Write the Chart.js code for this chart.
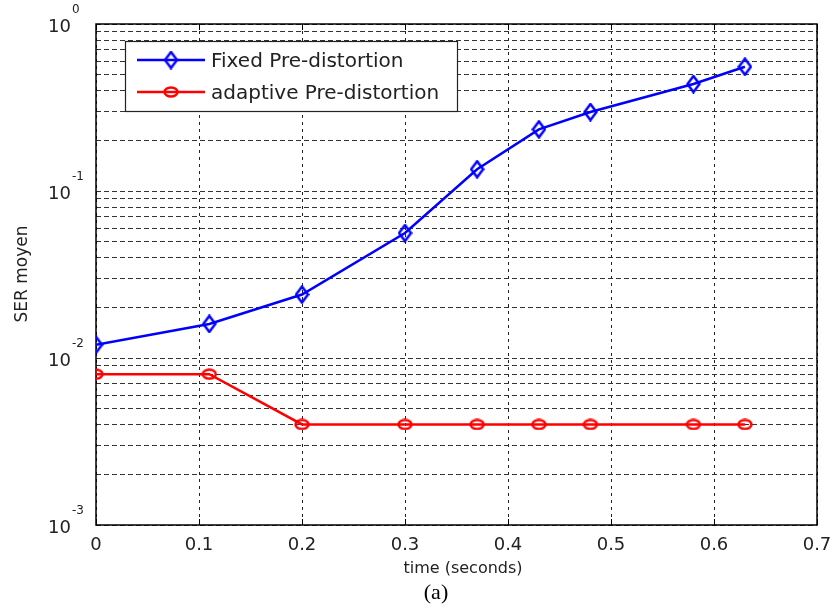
<!DOCTYPE html>
<html>
<head>
<meta charset="utf-8">
<script src="https://cdn.jsdelivr.net/npm/chart.js@4/dist/chart.umd.min.js"></script>
<style>
  html, body { margin: 0; padding: 0; background: #fff; }
  #wrap { width: 834px; height: 609px; }
</style>
</head>
<body>
<div id="wrap"><canvas id="serChart" width="834" height="609"></canvas></div>
<script>
// data
var timeSec = [0, 0.11, 0.2, 0.3, 0.37, 0.43, 0.48, 0.58, 0.63];
var serFixed = [0.012, 0.016, 0.024, 0.056, 0.135, 0.234, 0.297, 0.437, 0.555];
var serAdaptive = [0.008, 0.008, 0.004, 0.004, 0.004, 0.004, 0.004, 0.004, 0.004];
var xTicks = [0, 0.1, 0.2, 0.3, 0.4, 0.5, 0.6, 0.7];
var yDecades = [-3, -2, -1, 0];
var seriesNames = ["Fixed Pre-distortion", "adaptive Pre-distortion"];

function toPoints(xs, ys) {
  return xs.map(function (x, i) { return { x: x, y: ys[i] }; });
}

// 1..9 x 10^d gridlines like matlab
var yTickVals = [];
yDecades.forEach(function (d, i) {
  if (i == yDecades.length - 1) { yTickVals.push(Math.pow(10, d)); return; }
  for (var m = 1; m <= 9; m++) yTickVals.push(m * Math.pow(10, d));
});

var FONT = "'DejaVu Sans', Verdana, sans-serif";

// hollow markers (the figure is a bit stretched, so not square)
function makeMarker(kind, color, w, h) {
  var c = document.createElement('canvas');
  c.width = w; c.height = h;
  var g = c.getContext('2d');
  g.strokeStyle = color;
  g.lineWidth = 2.5;
  g.beginPath();
  if (kind == 'diamond') {
    g.moveTo(w / 2, 1.5); g.lineTo(w - 1.5, h / 2);
    g.lineTo(w / 2, h - 1.5); g.lineTo(1.5, h / 2);
    g.closePath();
  } else {
    g.ellipse(w / 2, h / 2, w / 2 - 1.5, h / 2 - 1.5, 0, 0, Math.PI * 2);
  }
  g.stroke();
  return c;
}
var blueDiamond = makeMarker('diamond', '#0000ff', 15, 19);
var redOval = makeMarker('oval', '#ff0000', 16, 12);

var axesExtras = {
  id: 'axesExtras',
  beforeDatasetsDraw: function (chart) {
    var ctx = chart.ctx, a = chart.chartArea;
    var xs = chart.scales.x;
    ctx.save();
    // inward ticks top and bottom
    ctx.strokeStyle = '#000';
    ctx.lineWidth = 1;
    xTicks.forEach(function (t) {
      var px = Math.round(xs.getPixelForValue(t)) + 0.5;
      ctx.beginPath();
      ctx.moveTo(px, a.top); ctx.lineTo(px, a.top + 6);
      ctx.moveTo(px, a.bottom); ctx.lineTo(px, a.bottom - 6);
      ctx.stroke();
    });
    ctx.lineWidth = 1.5;
    ctx.strokeRect(a.left, a.top, a.right - a.left, a.bottom - a.top);
    ctx.restore();
  },
  afterDraw: function (chart) {
    var ctx = chart.ctx;
    var xs = chart.scales.x, ys = chart.scales.y;
    ctx.save();
    ctx.fillStyle = '#222';
    ctx.textBaseline = 'middle';
    // decade labels with superscript
    yDecades.forEach(function (d) {
      var py = ys.getPixelForValue(Math.pow(10, d));
      ctx.font = '18px ' + FONT;
      ctx.textAlign = 'left';
      ctx.fillText('10', 48, py + 3);
      var w = ctx.measureText('10').width;
      ctx.font = '12px ' + FONT;
      ctx.fillText(String(d), 48 + w + 1, py - 14);
    });
    // x tick labels
    ctx.font = '18px ' + FONT;
    ctx.textAlign = 'center';
    xTicks.forEach(function (t) {
      ctx.fillText(String(t), xs.getPixelForValue(t), 545);
    });
    // axis titles
    ctx.font = '16px ' + FONT;
    ctx.fillText('time (seconds)', 463, 569);
    ctx.save();
    ctx.translate(23, 274);
    ctx.rotate(-Math.PI / 2);
    ctx.font = '17px ' + FONT;
    ctx.fillText('SER moyen', 0, 0);
    ctx.restore();
    ctx.fillStyle = '#000';
    ctx.font = '22px "Liberation Serif", "Times New Roman", serif';
    ctx.fillText('(a)', 436, 593);

    // legend box
    var lx = 125, ly = 41, lw = 332, lh = 70;
    ctx.fillStyle = '#fff';
    ctx.fillRect(lx, ly, lw, lh);
    ctx.strokeStyle = '#222';
    ctx.lineWidth = 1.2;
    ctx.strokeRect(lx + 0.5, ly + 0.5, lw, lh);
    chart.data.datasets.forEach(function (ds, i) {
      var cy = ly + 19 + i * 32;
      ctx.strokeStyle = ds.borderColor;
      ctx.lineWidth = ds.borderWidth;
      ctx.beginPath();
      ctx.moveTo(137, cy); ctx.lineTo(205, cy);
      ctx.stroke();
      Chart.helpers.drawPoint(ctx, {
        pointStyle: ds.pointStyle, radius: ds.pointRadius, rotation: 0, borderWidth: 0
      }, 171, cy);
      ctx.fillStyle = '#222';
      ctx.font = '20px ' + FONT;
      ctx.textAlign = 'left';
      ctx.fillText(ds.label, 211, cy + 2);
    });
    ctx.restore();
  }
};

var ctxS = document.getElementById('serChart').getContext('2d');
var serChart = new Chart(ctxS, {
  type: 'line',
  data: {
    datasets: [{
      label: seriesNames[0],
      data: toPoints(timeSec, serFixed),
      borderColor: '#0000ff',
      backgroundColor: 'rgba(0,0,0,0)',
      borderWidth: 2.5,
      pointStyle: blueDiamond,
      pointRadius: 7,
      tension: 0
    }, {
      label: seriesNames[1],
      data: toPoints(timeSec, serAdaptive),
      borderColor: '#ff0000',
      backgroundColor: 'rgba(0,0,0,0)',
      borderWidth: 2.5,
      pointStyle: redOval,
      pointRadius: 6,
      tension: 0
    }]
  },
  options: {
    responsive: false,
    animation: false,
    layout: { padding: { top: 24, right: 17, left: 0, bottom: 0 } },
    plugins: { legend: { display: false }, tooltip: { enabled: false } },
    scales: {
      x: {
        type: 'linear',
        min: 0, max: 0.7,
        afterBuildTicks: function (s) { s.ticks = xTicks.map(function (v) { return { value: v }; }); },
        afterFit: function (s) { s.height = 84; },
        grid: { color: '#222', lineWidth: 1, drawTicks: false },
        border: { display: false, dash: [3, 4] },
        ticks: { display: false }
      },
      y: {
        type: 'logarithmic',
        min: 0.001, max: 1,
        afterBuildTicks: function (s) { s.ticks = yTickVals.map(function (v) { return { value: v }; }); },
        afterFit: function (s) { s.width = 96; },
        grid: { color: '#333', lineWidth: 1, drawTicks: false },
        border: { display: false, dash: [5, 3] },
        ticks: { display: false }
      }
    }
  },
  plugins: [axesExtras]
});
</script>
</body>
</html>
